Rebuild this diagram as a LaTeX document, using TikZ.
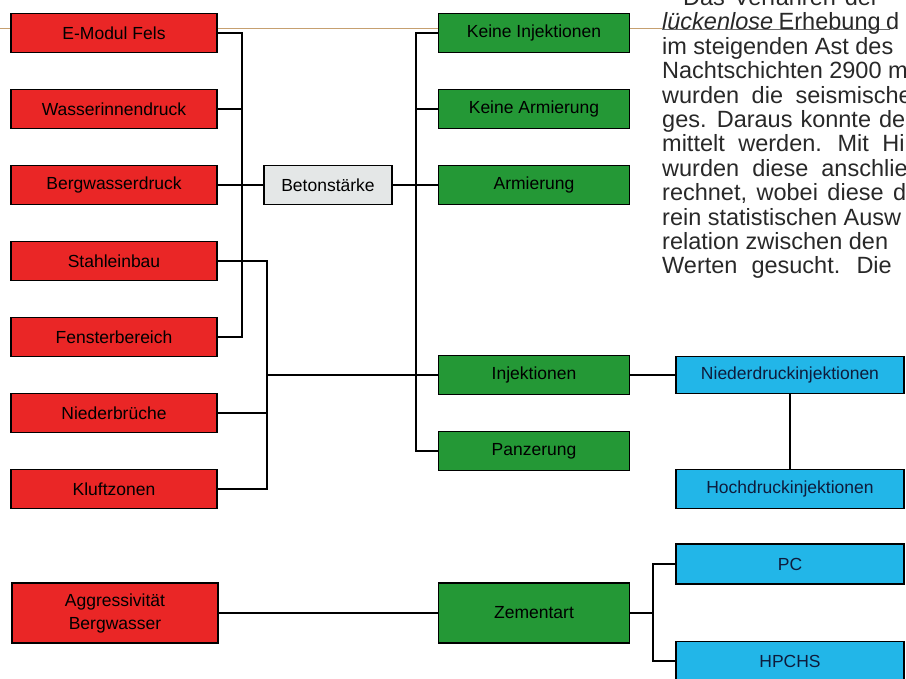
\documentclass[tikz,border=0pt]{standalone}
\usepackage{fontspec}
\setmainfont{Liberation Sans}
\usepackage{tikz}
\usetikzlibrary{positioning}

\definecolor{boxred}{RGB}{234,38,38}
\definecolor{boxgreen}{RGB}{36,152,54}
\definecolor{boxblue}{RGB}{34,182,232}
\definecolor{boxgrey}{RGB}{228,231,231}
\definecolor{boxnavy}{RGB}{14,28,60}
\definecolor{ruletan}{RGB}{198,160,112}
\definecolor{proseink}{RGB}{40,40,40}

\begin{document}
\begin{tikzpicture}[x=1pt,y=-1pt,
		box/.style={draw=black,line width=1.7pt,minimum height=39pt,inner sep=0pt,
			font=\fontsize{17.5}{18}\selectfont},
		redbox/.style={box,fill=boxred,minimum width=206pt},
		greenbox/.style={box,fill=boxgreen,minimum width=191pt},
		bluebox/.style={box,fill=boxblue,minimum width=228pt,text=boxnavy},
		link/.style={line width=2.2pt},
		prose/.style={anchor=base west,inner sep=0pt,text=proseink,
			font=\fontsize{23.5}{24}\selectfont}]
	\clip (0,0) rectangle (906,679);
	% rule of the text column
	\draw[ruletan,line width=1pt] (0,29) -- (662,29);
	\draw[proseink!70,line width=.8pt] (662,29.5) -- (890,29.5);

	% text column, cut off at the right
	\node[prose] (prose0) at (683,5.6) {\spaceskip=9pt\relax Das Verfahren der};
	\foreach \gap/\txt [count=\i] in {5.5/\textit{lückenlose} Erhebung d,
			6.5/im steigenden Ast des, 6.5/Nachtschichten 2900 m,
			12.5/wurden die seismische, 8/ges. Daraus konnte de,
			13.5/mittelt werden. Mit Hi, 13/wurden diese anschlie,
			9.5/{rechnet, wobei diese d}, 6.5/rein statistischen Ausw,
			6.5/relation zwischen den, 14/Werten gesucht. Die}
		\node[prose] (prose\i) at (662,{5.6+24.4*\i}) {\spaceskip=\gap pt\relax\txt};

	% influences
	\foreach \name/\txt [count=\i from 0] in {emodul/E-Modul Fels, wasser/Wasserinnendruck,
			berg/Bergwasserdruck, stahl/Stahleinbau, fenster/Fensterbereich,
			nieder/Niederbrüche, kluft/Kluftzonen}
		\node[redbox] (\name) at (114,{33+76*\i}) {\txt};
	\node[redbox,minimum height=60pt,align=center,font=\fontsize{17.5}{23}\selectfont]
		(aggr) at (115,613) {Aggressivität\\Bergwasser};

	\node[box,fill=boxgrey,minimum width=128pt] (beton) at (328,185) {Betonstärke};

	% measures
	\node[greenbox] (keineinj) at (534,33) {Keine Injektionen};
	\node[greenbox] (keinearm) at (534,109) {Keine Armierung};
	\node[greenbox] (armierung) at (534,185) {Armierung};
	\node[greenbox] (injek) at (534,375) {Injektionen};
	\node[greenbox] (panzer) at (534,451) {Panzerung};
	\node[greenbox,minimum height=60pt] (zement) at (534,613) {Zementart};

	\node[bluebox,minimum height=37pt] (niederinj) at (790,375) {Niederdruckinjektionen};
	\node[bluebox] (hochinj) at (790,489) {Hochdruckinjektionen};
	\node[bluebox,minimum height=40pt] (pc) at (790,564) {PC};
	\node[bluebox] (hpchs) at (790,661) {HPCHS};

	% spines of the brackets
	\coordinate (spineA) at (242,0);
	\coordinate (spineB) at (267,0);
	\coordinate (spineC) at (416,0);
	\coordinate (spineD) at (653,0);

	\draw[link] (emodul.east) -| (spineA |- fenster.east) -- (fenster.east);
	\draw[link] (wasser.east) -- (spineA |- wasser.east);
	\draw[link] (berg.east) -- (beton.west);
	\draw[link] (stahl.east) -| (spineB |- kluft.east) -- (kluft.east);
	\draw[link] (nieder.east) -- (spineB |- nieder.east);
	\draw[link] (spineB |- injek.west) -- (injek.west);
	\draw[link] (keineinj.west) -| (spineC |- panzer.west) -- (panzer.west);
	\draw[link] (keinearm.west) -- (spineC |- keinearm.west);
	\draw[link] (beton.east) -- (armierung.west);
	\draw[link] (injek.east) -- (niederinj.west);
	\draw[link] (niederinj) -- (hochinj);
	\draw[link] (aggr.east) -- (zement.west);
	\draw[link] (pc.west) -| (spineD |- hpchs.west) -- (hpchs.west);
	\draw[link] (zement.east) -- (spineD |- zement.east);
\end{tikzpicture}
\end{document}
